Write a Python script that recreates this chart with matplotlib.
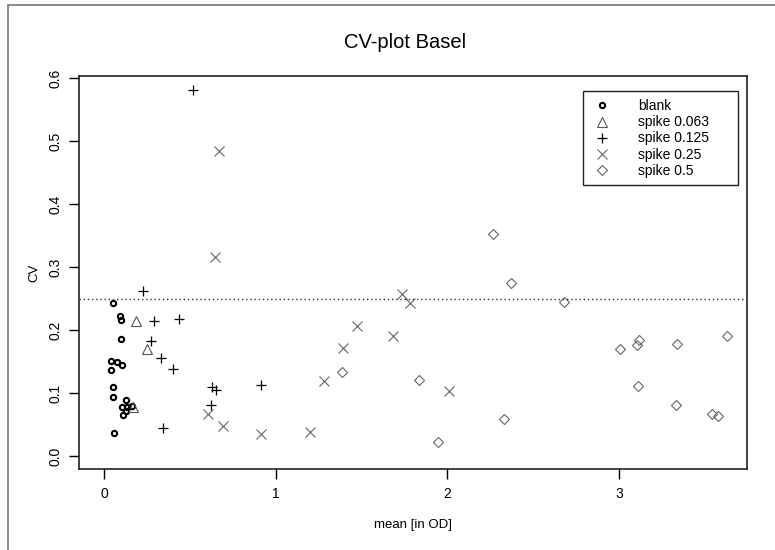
import matplotlib
matplotlib.use('Agg')
import matplotlib.pyplot as plt
from matplotlib.patches import Rectangle

plt.rcParams['font.family'] = ['Liberation Sans', 'DejaVu Sans']

# blank
blank_x = [0.049, 0.091, 0.096, 0.096, 0.037, 0.072, 0.101, 0.041, 0.052,
           0.052, 0.125, 0.101, 0.134, 0.160, 0.126, 0.107, 0.057]
blank_y = [0.243, 0.223, 0.216, 0.186, 0.151, 0.149, 0.145, 0.137, 0.109,
           0.094, 0.089, 0.078, 0.078, 0.080, 0.072, 0.066, 0.037]
# spike 0.063
s063_x = [0.185, 0.247, 0.169]
s063_y = [0.215, 0.170, 0.078]
# spike 0.125
s125_x = [0.515, 0.224, 0.291, 0.435, 0.272, 0.332, 0.398, 0.626, 0.651,
          0.913, 0.620, 0.340, 0.140]
s125_y = [0.581, 0.262, 0.215, 0.218, 0.183, 0.155, 0.138, 0.110, 0.105,
          0.113, 0.081, 0.045, 0.075]
# spike 0.25
s25_x = [0.668, 0.645, 1.470, 1.389, 1.282, 0.602, 0.694, 0.911, 1.199,
         1.733, 1.781, 1.680, 2.007]
s25_y = [0.485, 0.316, 0.207, 0.172, 0.119, 0.067, 0.048, 0.035, 0.039,
         0.257, 0.243, 0.190, 0.103]
# spike 0.5
s5_x = [1.383, 2.267, 2.370, 2.681, 1.836, 2.329, 1.943, 3.005, 3.102,
        3.118, 3.336, 3.627, 3.108, 3.330, 3.540, 3.578]
s5_y = [0.133, 0.353, 0.275, 0.245, 0.121, 0.059, 0.022, 0.170, 0.176,
        0.185, 0.178, 0.191, 0.112, 0.081, 0.067, 0.064]

cutoff = 0.25

fig = plt.figure(figsize=(7.75, 5.5), dpi=100)
# outer frame (right/bottom edges fall outside the picture)
fig.patches.append(Rectangle((8 / 775, -0.1), 1.2, 1.1 - 5 / 550,
                             transform=fig.transFigure, fill=False,
                             edgecolor='#777777', lw=1.2))
ax = fig.add_axes([79.3 / 775, 1 - 469.3 / 550, (746.7 - 79.3) / 775, (469.3 - 76) / 550])

ax.plot(blank_x, blank_y, 'o', ms=3.8, mfc='none', mec='black', mew=1.5, label='blank')
ax.plot(s063_x, s063_y, '^', ms=6.5, mfc='none', mec='#555555', mew=0.8, label='spike 0.063')
ax.plot(s125_x, s125_y, '+', ms=7, color='black', mew=0.9, label='spike 0.125')
ax.plot(s25_x, s25_y, 'x', ms=7, color='#666666', mew=0.8, label='spike 0.25')
ax.plot(s5_x, s5_y, 'D', ms=4.6, mfc='none', mec='#666666', mew=0.8, label='spike 0.5')

ax.axhline(cutoff, color='#333333', lw=1.0, ls=(0, (1, 2)))

ax.set_xlim(-0.146, 3.744)
ax.set_ylim(-0.021, 0.6037)
ax.set_xticks([0, 1, 2, 3])
ax.set_yticks([0.0, 0.1, 0.2, 0.3, 0.4, 0.5, 0.6])
ax.set_yticklabels(['0.0', '0.1', '0.2', '0.3', '0.4', '0.5', '0.6'],
                   rotation=90, va='center')
ax.tick_params(labelsize=10, length=7, width=1, pad=6)
ax.tick_params(axis='y', pad=5)
for s in ax.spines.values():
    s.set_color('#222222')
    s.set_linewidth(1.2)

ax.set_title('CV-plot Basel', fontsize=14.5, pad=20, x=0.488)
ax.set_xlabel('mean [in OD]', fontsize=9.5, labelpad=13)
ax.set_ylabel('CV', fontsize=9.5, labelpad=6)

# legend frame drawn separately (R style: wide right margin)
ax.add_patch(Rectangle((0.7547, 0.7229), 0.9874 - 0.7547, 0.9626 - 0.7229,
                       transform=ax.transAxes, fill=False, edgecolor='#222222',
                       lw=1.0, zorder=5))
leg = ax.legend(loc='upper left', bbox_to_anchor=(0.758, 0.962), frameon=False,
                fontsize=10, handlelength=1.2, handletextpad=2.0, borderpad=0.6,
                labelspacing=0.15, borderaxespad=0)

fig.savefig('out.png', dpi=100)
